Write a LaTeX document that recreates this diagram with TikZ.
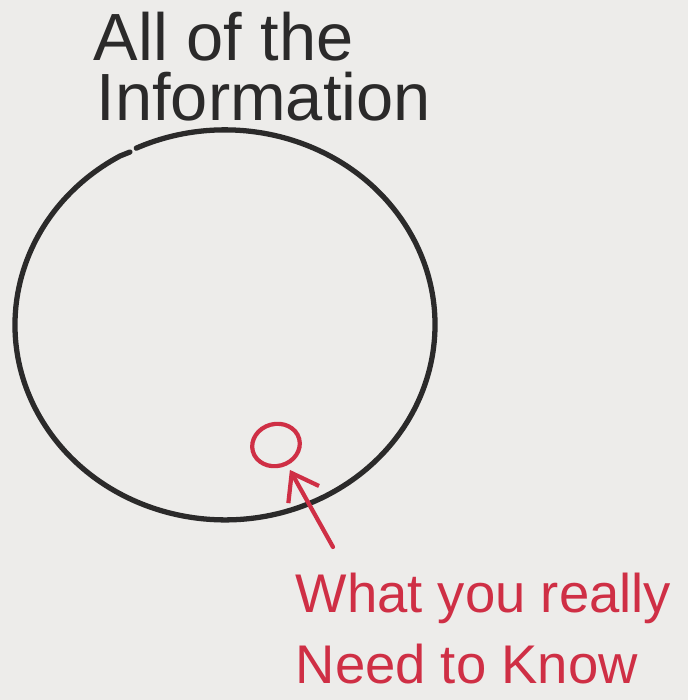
\documentclass[tikz,border=0pt]{standalone}
\usepackage{fontspec}
\setmainfont{Liberation Sans}
\usetikzlibrary{arrows.meta,shapes.geometric}
\definecolor{paper}{HTML}{EDECEA}
\definecolor{ink}{HTML}{2B2A2A}
\definecolor{redink}{HTML}{CF2F45}
\tikzset{
    blackpen/.style={ink, line width=1.5pt, line cap=round},
    redpen/.style={redink, line width=1.2pt, line cap=round},
    titletext/.style={anchor=base west, inner sep=0pt, text=ink, font=\fontsize{19}{19}\selectfont},
    notetext/.style={anchor=base west, inner sep=0pt, text=redink, font=\fontsize{15.5}{15.5}\selectfont}
}
\begin{document}
\begin{tikzpicture}
    \useasboundingbox (0,0) rectangle (6.88,7.00);
    \fill[paper] (0,0) rectangle (6.88,7.00);
    % Below nodes are the labels.
        \node[titletext] (title1) at (0.93, 6.40) {All of the};
        \node[titletext] (title2) at (0.96, 5.80) {Information};
        \node[notetext] (note1) at (2.95, 0.88) {What you really};
        \node[notetext] (note2) at (2.95, 0.16) {Need to Know};
    % This draws the big circle, left open at the top.
        \draw[blackpen] (1.30,5.48) -- (1.20,5.44) arc[start angle=120, end angle=475, x radius=2.10, y radius=1.95];
    % The small red circle and its arrow.
        \node[draw, redpen, ellipse, minimum width=0.48cm, minimum height=0.42cm, inner sep=0pt, rotate=15] (need) at (2.76, 2.55) {};
        \coordinate (tail) at (3.33, 1.53);
        \draw[redpen, -{Straight Barb[length=7pt, width=10pt]}, shorten >=1.5pt] (tail) -- (need);
\end{tikzpicture}
\end{document}
